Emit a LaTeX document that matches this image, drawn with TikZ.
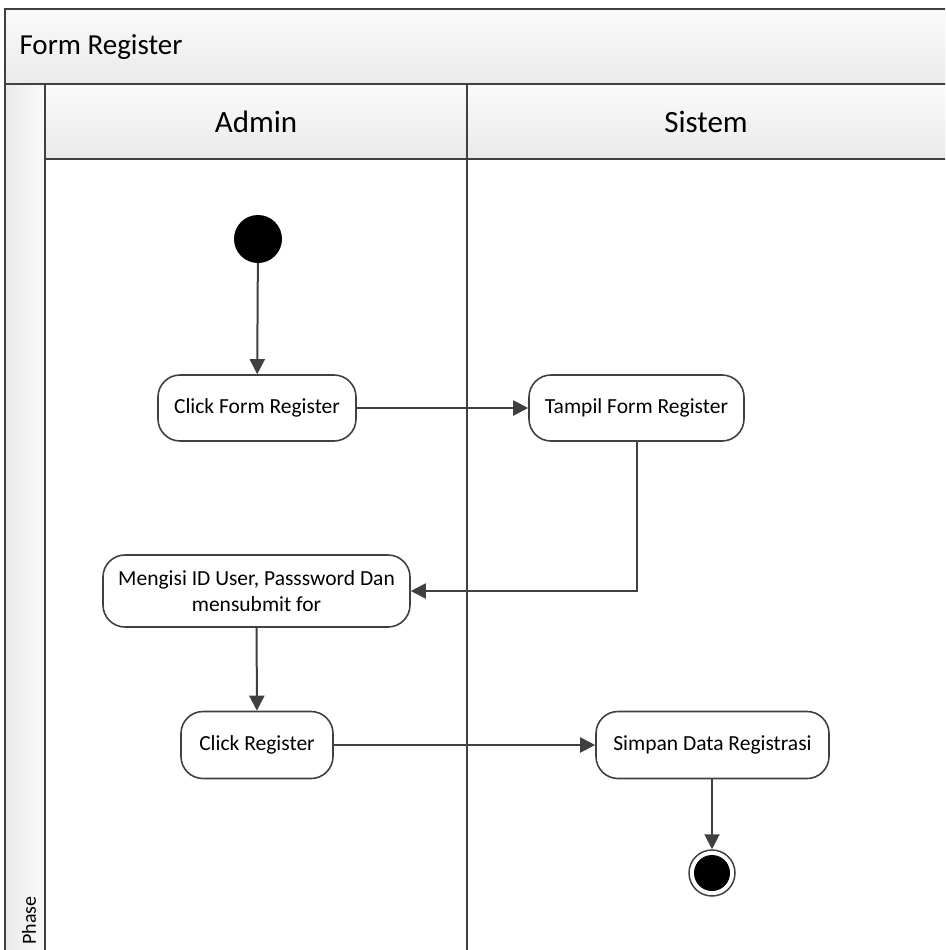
\documentclass[tikz,border=0pt]{standalone}
\usepackage{fontspec}
\setmainfont{Carlito}
\usetikzlibrary{arrows.meta,shapes.geometric}
\definecolor{ln}{HTML}{404040}
\definecolor{hdtop}{HTML}{FAFAFA}
\definecolor{hdbot}{HTML}{EAEAEA}
\tikzset{
  act/.style={draw=ln,line width=1.6pt,rounded corners=22pt,fill=white,align=center,inner sep=0pt,font=\fontsize{21.5}{26}\selectfont},
  flow/.style={draw=ln,line width=2pt,-{Triangle[length=15pt,width=15pt]}},
  frame/.style={draw=ln,line width=2pt},
  hdr/.style={font=\fontsize{31}{36}\selectfont},
}
\begin{document}
\begin{tikzpicture}[x=1pt,y=-1pt]
\useasboundingbox (0,0) rectangle (945,950);
\begin{scope}
\clip (0,0) rectangle (945,950);
% title band
\shade[top color=hdtop,bottom color=hdbot] (5,9) rectangle (950,84);
% header row
\shade[top color=hdtop,bottom color=hdbot] (45,84) rectangle (950,159);
% phase strip
\shade[left color=hdbot,right color=hdtop] (5,84) rectangle (45,955);
\draw[frame] (950,9) -- (5,9) -- (5,955);
\draw[frame] (5,84) -- (950,84);
\draw[frame] (45,84) -- (45,955);
\draw[frame] (45,159) -- (950,159);
\draw[frame] (467,84) -- (467,955);
\end{scope}
\node[anchor=west,font=\fontsize{29}{34}\selectfont] (title) at (16,47) {Form Register};
\node[hdr] (admin) at (256,122) {Admin};
\node[hdr] (sistem) at (706,122) {Sistem};
\node[rotate=90,anchor=west,font=\fontsize{20}{24}\selectfont] (phase) at (29,948) {Phase};

\node[circle,fill=black,minimum size=48pt,inner sep=0pt] (start) at (258,239) {};
\node[act,minimum width=198pt,minimum height=66pt] (a1) at (257,408) {Click Form Register};
\node[act,minimum width=215pt,minimum height=66pt] (s1) at (636.5,408) {Tampil Form Register};
\node[act,minimum width=307pt,minimum height=72pt] (a2) at (256.5,591) {Mengisi ID User, Passsword Dan\\mensubmit for};
\node[act,minimum width=152pt,minimum height=67pt] (a3) at (257,745) {Click Register};
\node[act,minimum width=233pt,minimum height=67pt] (s2) at (712.5,745) {Simpan Data Registrasi};
\node[circle,draw=ln,line width=1.5pt,minimum size=46pt,inner sep=0pt] (end) at (712,873) {};
\fill[black] (end.center) circle (18pt);

\draw[flow] (start) -- (a1);
\draw[flow] (a1) -- (s1);
\draw[flow] (s1.south) |- (a2.east);
\draw[flow] (a2) -- (a3);
\draw[flow] (a3) -- (s2);
\draw[flow] (s2.south -| end) -- (end);
\end{tikzpicture}
\end{document}
